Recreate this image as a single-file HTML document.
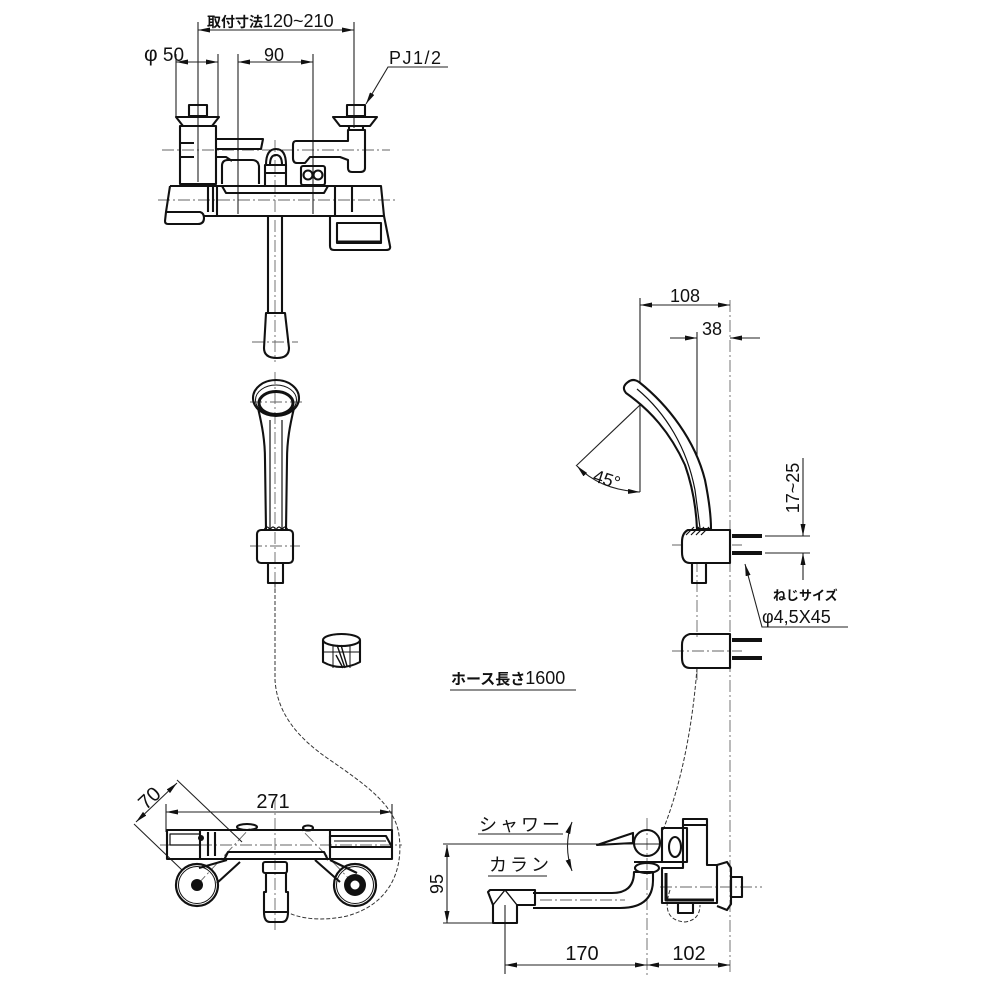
<!DOCTYPE html>
<html><head><meta charset="utf-8"><style>
html,body{margin:0;padding:0;background:#fff}
svg{display:block}
text{font-family:"Liberation Sans","Noto Sans CJK JP",sans-serif;fill:#111}
</style></head><body>
<svg width="1000" height="1000" viewBox="0 0 1000 1000" xmlns="http://www.w3.org/2000/svg">
<defs>
<marker id="ar" viewBox="0 0 12 5" refX="12" refY="2.5" markerWidth="12" markerHeight="5" markerUnits="userSpaceOnUse" orient="auto-start-reverse"><path d="M0,0 L12,2.5 L0,5 Z" fill="#111"/></marker>
</defs>

<!-- ============ CENTER LINES ============ -->
<g fill="none" stroke="#666" stroke-width="0.9" stroke-dasharray="12 3 2 3">
  <path d="M162,150 H390 M158,200 H396"/>
  <path d="M275,140 V362 M275,372 V590"/>
  <path d="M252,342 H298 M250,402 H302 M250,546 H300"/>
  <path d="M160,845 H402 M275,798 V930"/>
  <path d="M197,885 L250,828 M355,885 L300,828"/>
  <path d="M730,300 V975 M697,560 V640 M697,668 V680"/>
  <path d="M672,545 H742 M672,651 H742"/>
  <path d="M647,818 V975 M660,887 H762 M540,900 H625"/>
</g>

<!-- ============ THIN DIMENSION / EXTENSION LINES ============ -->
<g fill="none" stroke="#222" stroke-width="1.1">
  <path d="M198,22 V182 M354,22 V128 M176,54 V117 M218,54 V117 M238,54 V214 M313,54 V214"/>
  <path d="M198,30 H354" marker-start="url(#ar)" marker-end="url(#ar)"/>
  <path d="M176,62 H218" marker-start="url(#ar)" marker-end="url(#ar)"/>
  <path d="M238,62 H313" marker-start="url(#ar)" marker-end="url(#ar)"/>
  <path d="M448,67 H388 L366,104" marker-end="url(#ar)"/>
  <path d="M450,690 H576"/>
  <path d="M166,804 V832 M392,804 V832"/>
  <path d="M166,812 H392" marker-start="url(#ar)" marker-end="url(#ar)"/>
  <path d="M177,780 L242,842 M134,824 L182,870"/>
  <path d="M136,822 L177,783" marker-start="url(#ar)" marker-end="url(#ar)"/>
  <path d="M640,298 V492 M697,332 V530"/>
  <path d="M640,305 H730" marker-start="url(#ar)" marker-end="url(#ar)"/>
  <path d="M670,338 H697" marker-end="url(#ar)"/>
  <path d="M760,338 H730" marker-end="url(#ar)"/>
  <path d="M640,405 L576,466"/>
  <path d="M577,466 Q600,490 640,492" marker-start="url(#ar)" marker-end="url(#ar)"/>
  <path d="M765,536 H810 M765,553 H810"/>
  <path d="M803,458 V536" marker-end="url(#ar)"/>
  <path d="M803,580 V553" marker-end="url(#ar)"/>
  <path d="M848,627 H762 L745,564" marker-end="url(#ar)"/>
  <path d="M478,834 H563 M488,876 H547"/>
  <path d="M443,844 H660 M443,923 H500 M505,905 V974"/>
  <path d="M447,845 V923" marker-start="url(#ar)" marker-end="url(#ar)"/>
  <path d="M572,822 Q563,846 572,871" marker-start="url(#ar)" marker-end="url(#ar)"/>
  <path d="M505,965 H647" marker-start="url(#ar)" marker-end="url(#ar)"/>
  <path d="M647,965 H730" marker-start="url(#ar)" marker-end="url(#ar)"/>
</g>

<!-- ============ HOSE (dashed) ============ -->
<g fill="none" stroke="#333" stroke-width="1" stroke-dasharray="4 2">
  <path d="M275,583 L275,680 C277,712 296,737 330,760 C366,785 395,805 399,835 C404,872 388,905 347,916 C320,922 298,918 287,912"/>
  <path d="M697,668 C693,720 683,780 663,830"/>
  <path d="M670,890 Q660,920 685,922 Q700,920 700,905"/>
</g>

<!-- ============ OUTLINES ============ -->
<g fill="none" stroke="#111" stroke-width="2.1" stroke-linejoin="round">
  <rect x="189" y="105" width="18" height="11"/>
  <path d="M176,117 H219 L212,126 H183 Z"/>
  <rect x="180" y="126" width="36" height="58"/>
  <path d="M180,143 H194 M180,157 H194"/>
  <path d="M216,139 H263 L261,149 H216"/>
  <path d="M216,157 H226 L232,161"/>
  <path d="M222,184 V166 Q222,160 228,160 H252 Q258,160 259,166 V184"/>
  <path d="M265,185 V165 H286 V185"/>
  <path d="M266,165 Q266,149 276,149 Q286,149 286,165"/>
  <path d="M270,165 Q270,155 276,155 Q282,155 282,165 M265,173 H286"/>
  <rect x="347" y="105" width="18" height="11"/>
  <path d="M333,117 H377 L370,126 H340 Z"/>
  <path d="M349,126 V130 M363,126 V130"/>
  <path d="M296,141 H348 V130 H365 V168 Q365,172 360,172 H352 Q348,172 348,168 V160 L340,157 H310 L305,163 H297 Q293,163 293,158 V145 Q293,141 296,141 Z"/>
  <rect x="301" y="166" width="24" height="19" rx="2"/>
  <circle cx="308" cy="175" r="4.5"/><circle cx="318" cy="175" r="4.5"/>
  <path d="M170,186 H381 L384,216 H203 M170,186 L166,212"/>
  <path d="M166,212 L165,221 Q165,224 168,224 H198 Q204,224 204,218 Q204,213 200,212 Z"/>
  <path d="M222,186 L226,193 H324 L328,186"/>
  <path d="M217,186 V216 M335,186 V216"/>
  <path d="M208,186 V212 M213,186 V212 M352,186 V212"/>
  <path d="M330,216 V246 Q330,250 334,250 H386 Q391,250 390,246 L384,216"/>
  <path d="M337,223 H381 V243 H337 Z"/>
  <path d="M337,242 H381" stroke-width="3"/>
  <path d="M268,216 V312 M282,216 V312"/>
  <path d="M266,313 H285 L289,348 Q289,358 277,358 Q264,358 264,348 Z"/>

  <ellipse cx="276" cy="398" rx="23" ry="18"/>
  <ellipse cx="276" cy="400" rx="20.5" ry="15" stroke-width="1"/>
  <ellipse cx="276" cy="403" rx="17" ry="11.5" stroke-width="3"/>
  <path d="M258,408 C262,425 265,440 265,460 L266,530 M294,408 C290,425 287,440 287,460 L286,530"/>
  <path d="M270,420 V530 M282,420 V530" stroke-width="1.2"/>
  <rect x="257" y="530" width="36" height="33" rx="4"/>
  <path d="M264,530 Q267,524 270,530 Q273,524 276,530 Q279,524 282,530 Q285,524 288,530" stroke-width="1.2"/>
  <rect x="268" y="563" width="15" height="20"/>

  <path d="M323,640 V662 Q341,672 360,662 V640"/>
  <ellipse cx="341.5" cy="640" rx="18.5" ry="6"/>
  <path d="M333,645 V668 M350,645 V668 M323,652 H360" stroke-width="1"/>
  <path d="M337,645 L345,668 M341,645 L347,666 M336,655 L343,668" stroke-width="1.4"/>

  <rect x="167" y="830" width="225" height="29"/>
  <rect x="170" y="834" width="30" height="11" stroke-width="1.2"/>
  <path d="M200,830 V859 M208,832 V856 M215,832 V856 M330,830 V859"/>
  <path d="M224,860 L228,852 H324 L328,860"/>
  <path d="M330,836 H386 L392,847 H330 Z"/>
  <path d="M334,841 H386" stroke-width="1"/>
  <ellipse cx="247" cy="827" rx="10" ry="3"/>
  <ellipse cx="308" cy="828" rx="5" ry="2.5"/>
  <circle cx="197" cy="885" r="21" stroke-width="2.2"/>
  <circle cx="197" cy="885" r="18.5" stroke-width="1"/>
  <circle cx="355" cy="885" r="21" stroke-width="2.2"/>
  <circle cx="355" cy="885" r="18.5" stroke-width="1"/>
  <path d="M227,860 L199,868 M240,862 L217,883"/>
  <path d="M315,860 L340,882 M330,860 L357,873"/>
  <rect x="263" y="862" width="24" height="11" rx="2"/>
  <path d="M266,873 V892 H264 V912 Q264,922 270,922 H282 Q288,922 288,912 V892 H286 V873 M264,912 H288"/>

  <path d="M628,382 Q633,378 639,382 C668,405 695,440 705,480 C709,500 711,515 711,529 L697,529 C696,505 692,485 685,465 C670,432 650,410 626,393 Q621,387 628,382 Z" fill="#fff"/>
  <path d="M637,389 C666,413 687,448 695,490 L700,528" stroke-width="1.2"/>
  <path d="M688,530 H730 V563 H690 Q682,563 682,552 V542 Q682,533 688,530 Z" fill="#fff"/>
  <path d="M686,535 L694,527 M691,535 L699,527 M696,535 L704,527 M701,535 L709,527" stroke-width="1.2"/>
  <rect x="692" y="563" width="14" height="20"/>
  <path d="M732,536 H762 M732,553 H762" stroke-width="4"/>
  <path d="M690,634 H730 V668 H690 Q682,668 682,658 V645 Q682,636 690,634 Z"/>
  <path d="M732,640 H762 M732,658 H762" stroke-width="4"/>

  <path d="M533,893 L612,893 Q634,893 634,872 L653,872 L653,880 Q653,908 620,908 L533,908"/>
  <path d="M490,890 H535 V905 H517 V923 H493 V905 L488,892 Z"/>
  <path d="M493,905 L505,890 L517,905" stroke-width="1.4"/>
  <path d="M597,845 L633,833 V843 Z"/>
  <circle cx="647" cy="843" r="13"/>
  <path d="M634,862 H662"/>
  <ellipse cx="647" cy="868" rx="12" ry="5"/>
  <rect x="662" y="828" width="25" height="34"/>
  <ellipse cx="675" cy="847" rx="6" ry="10"/>
  <path d="M683,825 H707 V865 H717 V903 H662 V868 H683 Z"/>
  <rect x="683" y="819" width="24" height="6"/>
  <path d="M717,865 L727,862 L731,868 V904 L727,910 L717,906"/>
  <rect x="731" y="877" width="11" height="20"/>
  <path d="M678,903 V913 H693 V903"/>
  <path d="M666,873 V900 H714" stroke-width="3"/>
</g>

<g fill="#111">
  <circle cx="197" cy="885" r="6"/>
  <circle cx="355" cy="885" r="11"/>
  <circle cx="201" cy="838" r="3"/>
</g>
<circle cx="355" cy="885" r="5" fill="#fff" stroke="#111" stroke-width="1"/>

<!-- ============ TEXT ============ -->
<text x="207" y="27" font-size="14" font-weight="bold">取付寸法<tspan font-size="18" font-weight="normal">120~210</tspan></text>
<text x="144" y="61" font-size="19"><tspan font-size="21">φ</tspan> 50</text>
<text x="264" y="61" font-size="18">90</text>
<text x="389" y="64" font-size="18" letter-spacing="1.5">PJ1/2</text>
<text x="451" y="684" font-size="15" font-weight="bold">ホース長さ<tspan font-size="18" font-weight="normal">1600</tspan></text>
<text x="273" y="808" font-size="20" text-anchor="middle">271</text>
<text x="0" y="0" font-size="20" text-anchor="middle" transform="translate(154,803) rotate(-43)">70</text>
<text x="685" y="302" font-size="18" text-anchor="middle">108</text>
<text x="712" y="335" font-size="18" text-anchor="middle">38</text>
<text x="0" y="0" font-size="18" transform="translate(592,481) rotate(18)">45°</text>
<text x="0" y="0" font-size="18" text-anchor="middle" transform="translate(799,488) rotate(-90)">17~25</text>
<text x="773" y="600" font-size="13" font-weight="bold">ねじサイズ</text>
<text x="762" y="623" font-size="18">φ4,5X45</text>
<text x="479" y="831" font-size="18" letter-spacing="3">シャワー</text>
<text x="489" y="871" font-size="18" letter-spacing="3">カラン</text>
<text x="0" y="0" font-size="18" text-anchor="middle" transform="translate(443,884) rotate(-90)">95</text>
<text x="582" y="960" font-size="20" text-anchor="middle">170</text>
<text x="689" y="960" font-size="20" text-anchor="middle">102</text>
</svg>
</body></html>
